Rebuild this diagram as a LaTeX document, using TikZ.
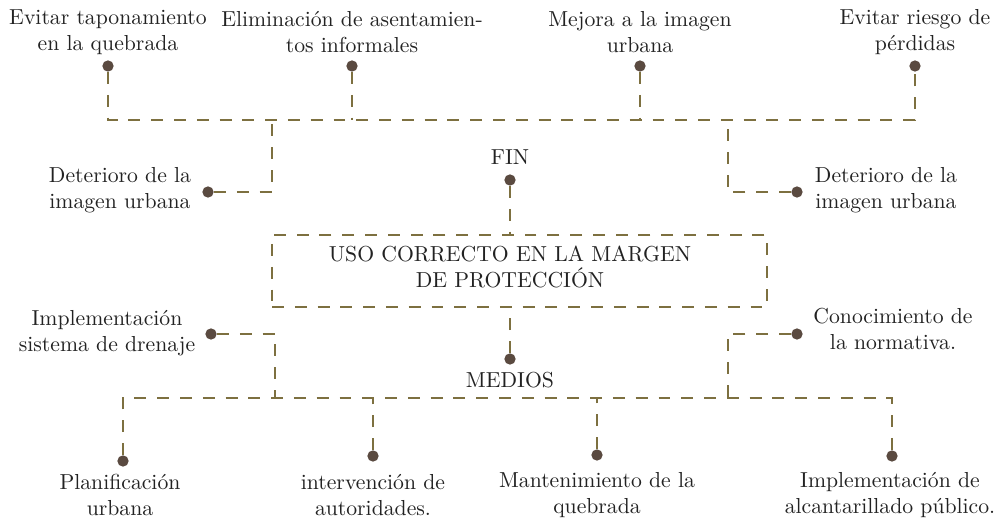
\documentclass[tikz,border=0pt]{standalone}
\usepackage{fontspec}
\definecolor{linecol}{HTML}{7D7040}
\definecolor{dotcol}{HTML}{5A4A40}
\definecolor{txtcol}{HTML}{222222}
\begin{document}
\begin{tikzpicture}[x=0.4608pt,y=-0.4608pt,
  conn/.style={draw=linecol,line width=1.15pt,dash pattern=on 5.5pt off 5pt},
  dotnode/.style={circle,fill=dotcol,inner sep=0pt,minimum size=5.2pt},
  lbl/.style={align=center,text=txtcol,inner sep=0pt,font=\normalsize},
  boxnode/.style={draw=linecol,line width=1.15pt,dash pattern=on 5.5pt off 5pt,minimum width=495*0.4608pt,minimum height=72*0.4608pt,inner sep=0pt}]
\useasboundingbox (0,0) rectangle (1003,521);
% top texts
\node[lbl] (t1) at (108,32) {Evitar taponamiento\\en la quebrada};
\node[lbl] (t2) at (352,32) {Eliminación de asentamien-\\tos informales};
\node[lbl] (t3) at (640,32) {Mejora a la imagen\\urbana};
\node[lbl] (t4) at (915,32) {Evitar riesgo de\\pérdidas};
\node[dotnode] (d1) at (108,66) {};
\node[dotnode] (d2) at (352,66) {};
\node[dotnode] (d3) at (640,66) {};
\node[dotnode] (d4) at (915,66) {};
\coordinate (tl) at (108,120);
\coordinate (tr) at (915,120);
\coordinate (jl) at (272,120);
\coordinate (jr) at (728,120);
% side texts top
\node[lbl] (tdl) at (120,190) {Deterioro de la\\imagen urbana};
\node[lbl] (tdr) at (886,190) {Deterioro de la\\imagen urbana};
\node[dotnode] (dl) at (208,192) {};
\node[dotnode] (dr) at (797,192) {};
% FIN
\node[lbl] (fin) at (510,157) {FIN};
\node[dotnode] (df) at (510,180) {};
% box
\node[boxnode] (box) at (519.5,271) {};
\node[lbl] (boxtxt) at (510,267) {USO CORRECTO EN LA MARGEN\\DE PROTECCIÓN};
% MEDIOS
\node[dotnode] (dm) at (510,359) {};
\node[lbl] (med) at (510,380) {MEDIOS};
% lower side
\node[lbl] (tsi) at (107,333) {Implementación\\sistema de drenaje};
\node[lbl] (tco) at (893,329) {Conocimiento de\\la normativa.};
\node[dotnode] (di) at (211,334) {};
\node[dotnode] (dc) at (797,334) {};
\coordinate (bl) at (123,398);
\coordinate (br) at (892,398);
\coordinate (kl) at (275,398);
\coordinate (kr) at (728,398);
% bottom
\node[dotnode] (b1) at (123,461) {};
\node[dotnode] (b2) at (373,456) {};
\node[dotnode] (b3) at (597,455) {};
\node[dotnode] (b4) at (892,456) {};
\node[lbl] (tb1) at (120,495) {Planificación\\urbana};
\node[lbl] (tb2) at (373,495) {intervención de\\autoridades.};
\node[lbl] (tb3) at (597,495) {Mantenimiento de la\\quebrada};
\node[lbl] (tb4) at (890,495) {Implementación de\\alcantarillado público.};
% connectors
\draw[conn] (d1) -- (tl) -- (tr) -- (d4);
\draw[conn] (d2) -- (d2 |- tl);
\draw[conn] (d3) -- (d3 |- tl);
\draw[conn] (dl) -| (jl);
\draw[conn] (dr) -| (jr);
\draw[conn] (df) -- (df |- box.north);
\draw[conn] (dm) -- (dm |- box.south);
\draw[conn] (di) -| (kl);
\draw[conn] (dc) -| (kr);
\draw[conn] (b1) -- (bl) -- (br) -- (b4);
\draw[conn] (b2) -- (b2 |- bl);
\draw[conn] (b3) -- (b3 |- bl);
\end{tikzpicture}
\end{document}
